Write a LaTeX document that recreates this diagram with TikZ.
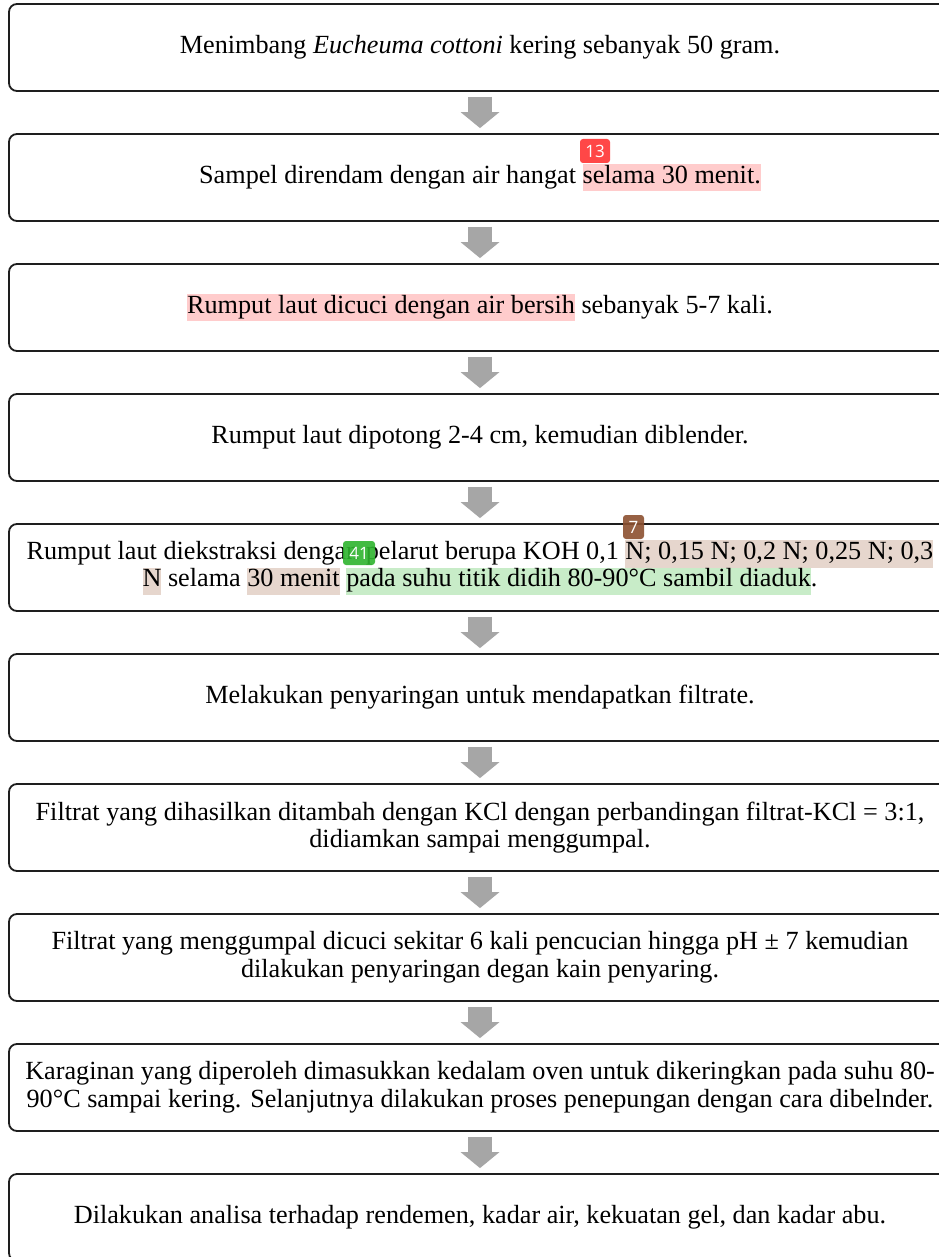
\documentclass[tikz,border=0pt]{standalone}
\usepackage{fontspec}
\setmainfont{Liberation Serif}
\newfontfamily\badgefont{Open Sans}
\usetikzlibrary{arrows.meta}
\definecolor{hlred}{RGB}{255,204,204}
\definecolor{hltan}{RGB}{230,214,205}
\definecolor{hlgreen}{RGB}{200,236,200}
\definecolor{bdred}{RGB}{255,51,51}
\definecolor{bdbrown}{RGB}{140,80,48}
\definecolor{bdgreen}{RGB}{46,180,46}
\definecolor{arrowgray}{RGB}{166,166,166}
\definecolor{boxline}{RGB}{30,30,30}
\newcommand{\hlbox}[2]{{\setlength{\fboxsep}{0pt}\colorbox{#1}{\strut #2}}}
\begin{document}
\begin{tikzpicture}[x=1pt,y=-1pt,
  stepbox/.style={draw=boxline, line width=1.8pt, rounded corners=8pt,
    minimum width=942pt, minimum height=87pt, align=center, inner sep=0pt,
    font=\fontsize{26.2}{27.6}\selectfont},
  flowarrow/.style={draw=arrowgray, line width=24pt,
    -{Triangle[width=38pt,length=16pt,fill=arrowgray]}},
  badge/.style={rounded corners=3pt, text=white, inner sep=0pt,
    font=\badgefont\fontsize{17}{17}\selectfont, minimum height=24pt,
    fill opacity=0.9, text opacity=1}]
\useasboundingbox[fill=white] (0,0) rectangle (938,1257);
\node[stepbox] (b1) at (480,47.5) {Menimbang \textit{Eucheuma cottoni} kering sebanyak 50 gram.};
\node[stepbox] (b2) at (480,177.5) {Sampel direndam dengan air hangat \hlbox{hlred}{selama 30 menit.}};
\node[stepbox] (b3) at (480,307.5) {\hlbox{hlred}{Rumput laut dicuci dengan air bersih} sebanyak 5-7 kali.};
\node[stepbox] (b4) at (480,437.5) {Rumput laut dipotong 2-4 cm, kemudian diblender.};
\node[stepbox] (b5) at (480,567.5) {Rumput laut diekstraksi dengan pelarut berupa KOH 0,1 \hlbox{hltan}{N; 0,15 N; 0,2 N; 0,25 N; 0,3}\\
  \hlbox{hltan}{N} selama \hlbox{hltan}{30 menit} \hlbox{hlgreen}{pada suhu titik didih 80-90°C sambil diaduk}.};
\node[stepbox] (b6) at (480,697.5) {Melakukan penyaringan untuk mendapatkan filtrate.};
\node[stepbox] (b7) at (480,827.5) {Filtrat yang dihasilkan ditambah dengan KCl dengan perbandingan filtrat-KCl = 3:1,\\ didiamkan sampai menggumpal.};
\node[stepbox] (b8) at (480,957.5) {Filtrat yang menggumpal dicuci sekitar 6 kali pencucian hingga pH ± 7 kemudian\\ dilakukan penyaringan degan kain penyaring.};
\node[stepbox] (b9) at (480,1087.5) {Karaginan yang diperoleh dimasukkan kedalam oven untuk dikeringkan pada suhu 80-\\ 90°C sampai kering. Selanjutnya dilakukan proses penepungan dengan cara dibelnder.};
\node[stepbox] (b10) at (480,1217.5) {Dilakukan analisa terhadap rendemen, kadar air, kekuatan gel, dan kadar abu.};
\foreach \a/\b in {b1/b2,b2/b3,b3/b4,b4/b5,b5/b6,b6/b7,b7/b8,b8/b9,b9/b10}
  \draw[flowarrow] ([yshift=-5pt]\a.south) -- ([yshift=5pt]\b.north);
\node[badge, fill=bdred, minimum width=30pt] (n13) at (595,151) {13};
\node[badge, fill=bdbrown, minimum width=21pt] (n7) at (633.5,527) {7};
\node[badge, fill=bdgreen, minimum width=32pt] (n41) at (359,553) {41};
\end{tikzpicture}
\end{document}
